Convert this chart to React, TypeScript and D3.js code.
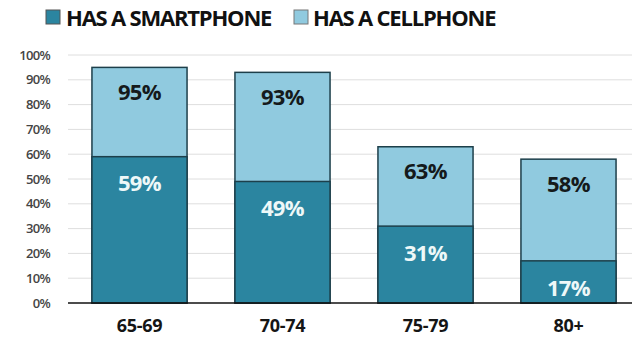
import React from "react";
import * as d3 from "d3";

const categories = ["65-69", "70-74", "75-79", "80+"];
const smartphone = [59, 49, 31, 17];
const cellphone = [95, 93, 63, 58];
const yTicks = [0, 10, 20, 30, 40, 50, 60, 70, 80, 90, 100];
const legendLabels = ["HAS A SMARTPHONE", "HAS A CELLPHONE"];

const DARK = "#2b85a0";
const LIGHT = "#90cadf";
const FONT = "'Open Sans', 'DejaVu Sans', sans-serif";

export default function App() {
  const W = 640, H = 340;
  const x = d3.scaleBand<string>().domain(categories).range([68, 640]).paddingInner(0.335).paddingOuter(0.1675);
  const y = d3.scaleLinear().domain([0, 100]).range([303, 55]);
  const bw = x.bandwidth();
  return (
    <svg width={W} height={H} style={{ position: "absolute", left: 0, top: 0, background: "#fff" }}>
      {/* legend */}
      <rect x={46} y={10} width={14} height={14} fill={DARK} stroke="#555" strokeWidth={1} />
      <text x={66} y={26} fontFamily={FONT} fontWeight={700} fontSize={22} fill="#111" letterSpacing={-1.2}>{legendLabels[0]}</text>
      <rect x={294} y={10} width={14} height={14} fill={LIGHT} stroke="#777" strokeWidth={1} />
      <text x={313} y={26} fontFamily={FONT} fontWeight={700} fontSize={22} fill="#111" letterSpacing={-1.2}>{legendLabels[1]}</text>
      {/* grid */}
      {yTicks.map((t) => (
        <g key={t}>
          {t > 0 && <line x1={68} x2={632} y1={y(t)} y2={y(t)} stroke="#dedede" strokeWidth={1} />}
          <text x={50} y={y(t)} dy="0.35em" textAnchor="end" fontFamily={FONT} fontWeight={600} fontSize={13} fill="#444" letterSpacing={-0.7}>{t}%</text>
        </g>
      ))}
      {/* bars */}
      {categories.map((c, i) => {
        const x0 = x(c)!;
        return (
          <g key={c}>
            <rect x={x0} y={y(cellphone[i])} width={bw} height={y(0) - y(cellphone[i])} fill={LIGHT} stroke="#1d3f4a" strokeWidth={1.5} />
            <rect x={x0} y={y(smartphone[i])} width={bw} height={y(0) - y(smartphone[i])} fill={DARK} stroke="#1d3f4a" strokeWidth={1.5} />
            <text x={x0 + bw / 2} y={y(cellphone[i]) + 25} dy="0.35em" textAnchor="middle" fontFamily={FONT} fontWeight={700} fontSize={22} fill="#151a1c" letterSpacing={-0.6}>{cellphone[i]}%</text>
            <text x={x0 + bw / 2} y={y(smartphone[i]) + 27} dy="0.35em" textAnchor="middle" fontFamily={FONT} fontWeight={700} fontSize={22} fill="#eef8f8" letterSpacing={-0.6}>{smartphone[i]}%</text>
            <text x={x0 + bw / 2} y={326} dy="0.35em" textAnchor="middle" fontFamily={FONT} fontWeight={700} fontSize={18} fill="#151515" letterSpacing={-0.3}>{c}</text>
          </g>
        );
      })}
      <line x1={68} x2={632} y1={y(0)} y2={y(0)} stroke="#111" strokeWidth={1.5} />
    </svg>
  );
}
